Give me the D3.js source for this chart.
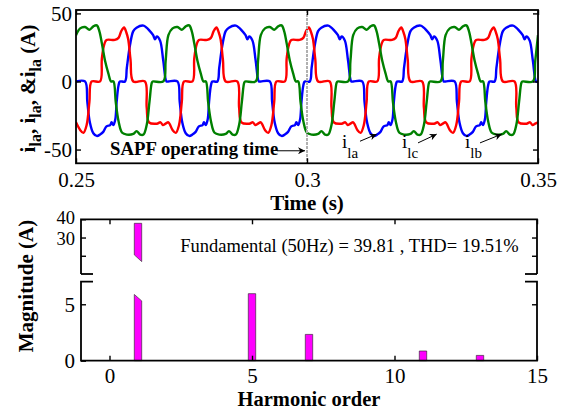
<!DOCTYPE html>
<html>
<head>
<meta charset="utf-8">
<script src="https://cdn.jsdelivr.net/npm/d3@7"></script>
<style>
  body { margin: 0; background: #fff; }
  svg { display: block; }
</style>
</head>
<body>
<script>
const width = 563;
const height = 412;
const serif = '"Liberation Serif", "Times New Roman", serif';

// top chart: load currents, one 20 ms cycle per phase (ms from 0.25 s, A)
const cycleMs = 20;
const cycleCount = 5;
const phaseA = [[0, 0], [1.95, 0], [2.45, -15], [3.0, -30], [3.75, -38], [4.5, -40], [5.2, -39], [5.9, -37],
  [6.6, -33], [7.4, -32], [7.7, -30], [8.1, -32], [8.5, -28], [8.8, -15], [9.2, -3], [9.5, 0], [10.6, 0],
  [11.0, 10], [11.7, 27], [12.4, 37], [13.1, 39.5], [14.6, 41], [16.0, 37], [16.7, 34], [17.1, 31],
  [17.5, 33], [18.2, 30], [18.9, 15], [19.6, 0], [20, 0]];
const phaseB = [[0, 34], [0.9, 39], [1.95, 40], [2.9, 38], [3.75, 40.5], [4.5, 41.2], [5.05, 37], [5.6, 28],
  [6.3, 15], [7.0, 6], [7.6, 0], [8.1, 0], [8.6, -15], [9.2, -29], [10.0, -37.7], [11.0, -39], [12.4, -38.5],
  [13.1, -36.5], [13.9, -39], [14.6, -39], [15.3, -32], [15.9, -15], [16.4, -1], [16.6, 0], [18.9, 0],
  [19.4, 15], [20, 34]];
const phaseC = [[0, -30], [0.9, -35.6], [1.6, -37.7], [2.3, -32], [2.9, -15], [3.4, 0], [5.2, 0], [5.6, 17],
  [6.1, 27], [6.6, 30.5], [8.4, 30.5], [9.2, 32], [9.8, 37], [10.4, 39.6], [10.9, 36], [11.3, 31],
  [11.8, 16], [12.4, 0], [14.9, 0], [15.3, -19], [15.8, -30], [17.5, -31], [18.3, -30], [18.8, -32],
  [19.4, -31], [20, -30]];
const phaseColors = ['#0000ff', '#008000', '#ff0000'];
const timeTicks = [0.25, 0.3, 0.35];
const currentTicks = [-50, 0, 50];
const sapfTime = 0.3;
const phaseNotes = [
  { sub: 'la', text: [0.30758, -49], tail: [0.31147, -43.9], tip: [0.31508, -38.7] },
  { sub: 'lc', text: [0.32056, -49], tail: [0.32403, -45.1], tip: [0.32807, -38.7] },
  { sub: 'lb', text: [0.33420, -49], tail: [0.33745, -45.1], tip: [0.34214, -38.7] }
];

// bottom chart: harmonic spectrum
const harmonicOrder = [1, 5, 7, 11, 13];
const harmonicMag = [37.8, 5.94, 2.33, 0.86, 0.47];
const orderTicks = [0, 5, 10, 15];
const upperTicks = [20, 30, 40];
const upperLabels = [30, 40];
const lowerTicks = [0, 5];
const spectrumNote = 'Fundamental (50Hz) = 39.81 , THD= 19.51%';

const x1 = d3.scaleLinear().domain([0.25, 0.35]).range([76, 538]);
const y1 = d3.scaleLinear().domain([-60.1, 52.5]).range([163.3, 10]);
const x2 = d3.scaleLinear().domain([-1, 15]).range([81, 537]);
const yUp = d3.scaleLinear().domain([10, 40]).range([274, 219.3]);
const yLo = d3.scaleLinear().domain([0, 7]).range([360.7, 281.7]);

const svg = d3.select('body').append('svg')
  .attr('width', width)
  .attr('height', height)
  .attr('viewBox', [0, 0, width, height]);

const defs = svg.append('defs');
defs.append('clipPath').attr('id', 'clipTop')
  .append('rect')
  .attr('x', x1.range()[0]).attr('y', y1.range()[1])
  .attr('width', x1.range()[1] - x1.range()[0])
  .attr('height', y1.range()[0] - y1.range()[1]);
defs.append('marker')
  .attr('id', 'head')
  .attr('viewBox', '0 0 10 10')
  .attr('refX', 10).attr('refY', 5)
  .attr('markerWidth', 9).attr('markerHeight', 7)
  .attr('markerUnits', 'userSpaceOnUse')
  .attr('orient', 'auto')
  .append('path').attr('d', 'M0,0L10,5L0,10L3,5Z').attr('fill', '#000');

function tile(cycle) {
  const pts = [];
  for (let k = 0; k < cycleCount; k++) {
    cycle.forEach(([t, v], i) => {
      if (i === cycle.length - 1 && k < cycleCount - 1) return;
      pts.push([0.25 + (k * cycleMs + t) / 1000, v]);
    });
  }
  return pts;
}

function styleAxis(g, size) {
  g.select('.domain').remove();
  g.selectAll('line').attr('stroke', '#000').attr('stroke-width', 1.4);
  g.selectAll('text')
    .attr('font-family', serif)
    .attr('font-size', size)
    .attr('fill', '#000');
}

// ---- top chart ----
const line = d3.line()
  .x(d => x1(d[0]))
  .y(d => y1(d[1]))
  .curve(d3.curveCatmullRom.alpha(0.5));

svg.append('g')
  .attr('clip-path', 'url(#clipTop)')
  .selectAll('path')
  .data([phaseA, phaseC, phaseB])
  .join('path')
    .attr('d', d => line(tile(d)))
    .attr('fill', 'none')
    .attr('stroke', d => phaseColors[[phaseA, phaseB, phaseC].indexOf(d)])
    .attr('stroke-width', 2.4)
    .attr('stroke-linejoin', 'round');

svg.append('line')
  .attr('x1', x1(sapfTime)).attr('x2', x1(sapfTime))
  .attr('y1', y1.range()[1]).attr('y2', y1.range()[0])
  .attr('stroke', '#b0b0b0')
  .attr('stroke-width', 2)
  .attr('stroke-dasharray', '3,1');

svg.append('g')
  .attr('transform', `translate(${x1.range()[0]},0)`)
  .call(d3.axisLeft(y1).tickValues(currentTicks).tickSize(-5).tickPadding(4).tickFormat(d => String(d)))
  .call(g => styleAxis(g, 21));
svg.append('g')
  .attr('transform', `translate(${x1.range()[1]},0)`)
  .call(d3.axisRight(y1).tickValues(currentTicks).tickSize(-5).tickFormat(''))
  .call(g => styleAxis(g, 21));
svg.append('g')
  .attr('transform', `translate(0,${y1.range()[0]})`)
  .call(d3.axisBottom(x1).tickValues(timeTicks).tickSize(-5).tickPadding(9).tickFormat(d => String(d)))
  .call(g => styleAxis(g, 21));
svg.append('g')
  .attr('transform', `translate(0,${y1.range()[1]})`)
  .call(d3.axisTop(x1).tickValues(timeTicks).tickSize(-5).tickFormat(''))
  .call(g => styleAxis(g, 21));

svg.append('rect')
  .attr('x', x1.range()[0]).attr('y', y1.range()[1])
  .attr('width', x1.range()[1] - x1.range()[0])
  .attr('height', y1.range()[0] - y1.range()[1])
  .attr('fill', 'none').attr('stroke', '#000').attr('stroke-width', 1.8);

// SAPF note
svg.append('text')
  .attr('x', 110).attr('y', y1(-54.3))
  .attr('font-family', serif).attr('font-weight', 'bold').attr('font-size', 18.8)
  .text('SAPF operating time');
svg.append('line')
  .attr('x1', x1(0.29351)).attr('x2', x1(0.29957))
  .attr('y1', y1(-50.9)).attr('y2', y1(-50.9))
  .attr('stroke', '#000').attr('stroke-width', 1)
  .attr('marker-end', 'url(#head)');

// phase labels
phaseNotes.forEach(n => {
  const t = svg.append('text')
    .attr('x', x1(n.text[0])).attr('y', y1(n.text[1]))
    .attr('font-family', serif).attr('font-size', 19);
  t.append('tspan').text('i');
  t.append('tspan').attr('dy', 10).attr('font-size', 15).text(n.sub);
  svg.append('line')
    .attr('x1', x1(n.tail[0])).attr('y1', y1(n.tail[1]))
    .attr('x2', x1(n.tip[0])).attr('y2', y1(n.tip[1]))
    .attr('stroke', '#000').attr('stroke-width', 1)
    .attr('marker-end', 'url(#head)');
});

// y label top
const yl = svg.append('text')
  .attr('transform', 'translate(34.5,88.5) rotate(-90)')
  .attr('text-anchor', 'middle')
  .attr('font-family', serif).attr('font-weight', 'bold').attr('font-size', 21);
[['i', 0], ['la', 1], [', ', 0], ['i', 0], ['la', 1], [', &', 0], ['i', 0], ['la', 1], [' (A)', 0]]
  .forEach(([s, sub], i, arr) => {
    const prevSub = i > 0 && arr[i - 1][1];
    yl.append('tspan')
      .attr('dy', sub ? 6 : (prevSub ? -6 : 0))
      .attr('font-size', sub ? 16 : 21)
      .text(s);
  });

svg.append('text')
  .attr('x', (x1.range()[0] + x1.range()[1]) / 2).attr('y', 210)
  .attr('text-anchor', 'middle')
  .attr('font-family', serif).attr('font-weight', 'bold').attr('font-size', 21)
  .text('Time (s)');

// ---- bottom chart ----
const barW = 0.26;
const breakCut = { upper: [20.5, 16.8], lower: [5.87, 5.3] };
const lowMax = yLo.domain()[1];
const bars = harmonicOrder.map((h, i) => ({ h, v: harmonicMag[i] }));

const barLine = d3.line();
svg.append('g')
  .selectAll('path')
  .data(bars)
  .join('path')
    .attr('d', d => {
      const l = x2(d.h - barW / 2), r = x2(d.h + barW / 2);
      if (d.v <= lowMax) {
        return barLine([[l, yLo(0)], [r, yLo(0)], [r, yLo(d.v)], [l, yLo(d.v)]]) + 'Z';
      }
      return barLine([[l, yLo(0)], [r, yLo(0)], [r, yLo(breakCut.lower[1])], [l, yLo(breakCut.lower[0])]]) + 'Z' +
        barLine([[l, yUp(d.v)], [r, yUp(d.v)], [r, yUp(breakCut.upper[1])], [l, yUp(breakCut.upper[0])]]) + 'Z';
    })
    .attr('fill', '#ff00ff')
    .attr('stroke', '#222')
    .attr('stroke-width', 0.6);

svg.append('g')
  .attr('transform', `translate(${x2.range()[0]},0)`)
  .call(d3.axisLeft(yUp).tickValues(upperTicks).tickSize(-5).tickPadding(6)
    .tickFormat(d => upperLabels.includes(d) ? String(d) : ''))
  .call(g => styleAxis(g, 18.5))
  .call(g => g.selectAll('text').attr('dy', d => d === 40 ? '0.2em' : '0.38em'));
svg.append('g')
  .attr('transform', `translate(${x2.range()[1]},0)`)
  .call(d3.axisRight(yUp).tickValues(upperTicks.slice(0, 2)).tickSize(-5).tickFormat(''))
  .call(g => styleAxis(g, 21));
svg.append('g')
  .attr('transform', `translate(${x2.range()[0]},0)`)
  .call(d3.axisLeft(yLo).tickValues(lowerTicks).tickSize(-5).tickPadding(6).tickFormat(d => String(d)))
  .call(g => styleAxis(g, 21));
svg.append('g')
  .attr('transform', `translate(${x2.range()[1]},0)`)
  .call(d3.axisRight(yLo).tickValues(lowerTicks.slice(1)).tickSize(-5).tickFormat(''))
  .call(g => styleAxis(g, 21));
svg.append('g')
  .attr('transform', `translate(0,${yLo.range()[0]})`)
  .call(d3.axisBottom(x2).tickValues(orderTicks).tickSize(-5).tickPadding(7.5).tickFormat(d => String(d)))
  .call(g => styleAxis(g, 21));
svg.append('g')
  .attr('transform', `translate(0,${yUp.range()[1]})`)
  .call(d3.axisTop(x2).tickValues(orderTicks).tickSize(-5).tickFormat(''))
  .call(g => styleAxis(g, 21));

// broken frame
const L = x2.range()[0], R = x2.range()[1], stub = 12;
const frame = [
  [[L, yUp(10)], [L, yUp(40)], [R, yUp(40)], [R, yUp(10)]],
  [[L + stub, yUp(10)], [L, yUp(10)]],
  [[R - stub, yUp(10)], [R, yUp(10)]],
  [[L + stub, yLo(7)], [L, yLo(7)], [L, yLo(0)], [R, yLo(0)], [R, yLo(7)], [R - stub, yLo(7)]]
];
svg.append('g')
  .selectAll('path')
  .data(frame)
  .join('path')
    .attr('d', d => d3.line()(d))
    .attr('fill', 'none')
    .attr('stroke', '#000')
    .attr('stroke-width', 1.8);

svg.append('text')
  .attr('x', x2(2.48)).attr('y', yUp(22.1))
  .attr('font-family', serif).attr('font-size', 18.5)
  .text(spectrumNote);

svg.append('text')
  .attr('transform', 'translate(33,286) rotate(-90)')
  .attr('text-anchor', 'middle')
  .attr('font-family', serif).attr('font-weight', 'bold').attr('font-size', 21)
  .text('Magnitude (A)');

svg.append('text')
  .attr('x', (x2.range()[0] + x2.range()[1]) / 2).attr('y', 406)
  .attr('text-anchor', 'middle')
  .attr('font-family', serif).attr('font-weight', 'bold').attr('font-size', 20.5)
  .text('Harmonic order');
</script>
</body>
</html>
